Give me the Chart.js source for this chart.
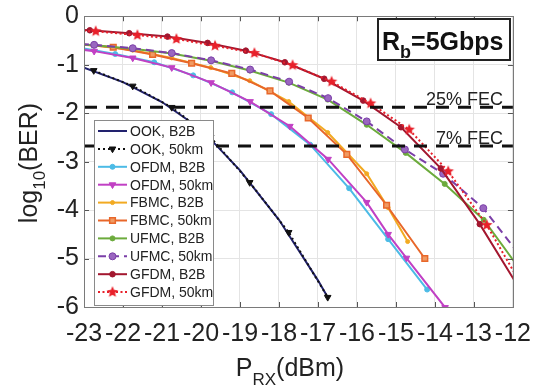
<!DOCTYPE html>
<html>
<head>
<meta charset="utf-8">
<script src="https://cdn.jsdelivr.net/npm/chart.js@4.4.0/dist/chart.umd.min.js"></script>
<style>
  html, body { margin: 0; padding: 0; background: #fff; }
</style>
</head>
<body>
<canvas id="chart" width="543" height="388"></canvas>
<script>
// tick labels
const X_TICKS = [-23, -22, -21, -20, -19, -18, -17, -16, -15, -14, -13, -12];
const Y_TICKS = [0, -1, -2, -3, -4, -5, -6];

// series names (legend order)
const NAMES = ['OOK, B2B', 'OOK, 50km', 'OFDM, B2B', 'OFDM, 50km', 'FBMC, B2B',
               'FBMC, 50km', 'UFMC, B2B', 'UFMC, 50km', 'GFDM, B2B', 'GFDM, 50km'];

// received power (dBm) / log10(BER)
const ookB2bX = [-23, -22, -21, -20, -19, -18, -17, -16.75];
const ookB2bY = [-1.06, -1.36, -1.77, -2.33, -3.18, -4.2, -5.45, -5.8];
const ook50X = [-22.75, -21.75, -20.75, -19.75, -18.75, -17.75, -16.75];
const ook50Y = [-1.12, -1.44, -1.88, -2.5, -3.43, -4.46, -5.8];

const ofdmB2bX = [-23.2, -22.2, -21.2, -20.2, -19.2, -18.2, -17.2, -16.2, -15.2, -14.2];
const ofdmB2bY = [-0.64, -0.78, -0.95, -1.22, -1.57, -2.02, -2.65, -3.55, -4.6, -5.64];
const ofdm50X = [-23.74, -22.74, -21.75, -20.75, -19.74, -18.74, -17.72, -16.74, -15.75, -15.2, -14.73, -13.74];
const ofdm50Y = [-0.62, -0.72, -0.86, -1.06, -1.37, -1.76, -2.27, -2.95, -3.84, -4.5, -4.99, -6.01];

const fbmcB2bX = [-23.75, -22.75, -21.75, -20.75, -19.75, -18.75, -17.75, -16.75, -15.75, -15.2, -14.7];
const fbmcB2bY = [-0.55, -0.6, -0.7, -0.86, -1.06, -1.33, -1.76, -2.4, -3.25, -3.95, -4.65];
const fbmc50X = [-23.25, -22.25, -21.24, -20.24, -19.21, -18.23, -17.25, -16.26, -15.24, -14.26];
const fbmc50Y = [-0.57, -0.64, -0.79, -0.97, -1.18, -1.54, -2.1, -2.85, -3.9, -5.0];

const ufmcB2bX = [-23.75, -22.75, -21.75, -20.75, -19.75, -18.75, -17.75, -16.75, -15.75, -14.75, -13.75, -12.75, -11.75];
const ufmcB2bY = [-0.55, -0.6, -0.67, -0.77, -0.92, -1.12, -1.37, -1.72, -2.24, -2.82, -3.46, -4.2, -5.3];
const ufmc50X = [-23.74, -22.74, -21.75, -20.75, -19.74, -18.74, -17.74, -16.74, -15.75, -14.77, -13.79, -12.76, -11.76];
const ufmc50Y = [-0.55, -0.59, -0.66, -0.76, -0.91, -1.1, -1.35, -1.69, -2.17, -2.75, -3.25, -3.96, -5.0];

const gfdmB2bX = [-23.85, -22.85, -21.84, -20.86, -19.83, -18.85, -17.85, -16.84, -15.84, -14.87, -13.85, -12.85, -11.85];
const gfdmB2bY = [-0.24, -0.29, -0.35, -0.42, -0.55, -0.71, -0.95, -1.29, -1.74, -2.29, -3.14, -4.29, -5.6];
const gfdm50X = [-23.7, -22.7, -21.63, -20.63, -19.64, -18.63, -17.65, -16.65, -15.65, -14.66, -13.66, -12.67, -11.67];
const gfdm50Y = [-0.27, -0.31, -0.39, -0.47, -0.61, -0.76, -1.01, -1.35, -1.8, -2.34, -3.2, -4.31, -5.7];

// FEC thresholds
const FEC_LEVELS = [-1.88, -2.68];
const FEC_LABELS = ['25% FEC', '7% FEC'];

const FONT = '"Liberation Sans", Arial, sans-serif';

function pts(xs, ys) {
  return xs.map((x, i) => ({ x: x, y: ys[i] }));
}

function makeStar(color, r) {
  const c = document.createElement('canvas');
  const s = Math.ceil(r * 2 + 2);
  c.width = s; c.height = s;
  const g = c.getContext('2d');
  g.fillStyle = color;
  g.beginPath();
  for (let k = 0; k < 10; k++) {
    const a = -Math.PI / 2 + k * Math.PI / 5;
    const rr = k % 2 ? r * 0.45 : r;
    g.lineTo(s / 2 + rr * Math.cos(a), s / 2 + rr * Math.sin(a));
  }
  g.closePath();
  g.fill();
  return c;
}

function curve(i, xs, ys, color, opts) {
  return Object.assign({
    label: NAMES[i],
    data: pts(xs, ys),
    borderColor: color,
    backgroundColor: color,
    borderWidth: 2,
    pointRadius: 2.2,
    pointBorderWidth: 1,
    pointStyle: 'circle',
    order: 30 - i,
    fill: false
  }, opts || {});
}

const datasets = [
  curve(0, ookB2bX, ookB2bY, '#22226e', { pointRadius: 0 }),
  curve(1, ook50X, ook50Y, '#111111', { borderDash: [2, 3], pointStyle: 'triangle', pointRotation: 180, pointRadius: 3.8 }),
  curve(2, ofdmB2bX, ofdmB2bY, '#4cbbe6', { pointRadius: 2.5 }),
  curve(3, ofdm50X, ofdm50Y, '#c140c4', { pointStyle: 'triangle', pointRotation: 180, pointRadius: 3.8 }),
  curve(4, fbmcB2bX, fbmcB2bY, '#f2aa22', { pointRadius: 2 }),
  curve(5, fbmc50X, fbmc50Y, '#e8672a', { pointStyle: 'rect', pointRadius: 4, backgroundColor: '#f09a62', pointBorderWidth: 1.5 }),
  curve(6, ufmcB2bX, ufmcB2bY, '#6cab3c', { pointRadius: 2.5 }),
  curve(7, ufmc50X, ufmc50Y, '#7b3fa8', { borderDash: [8, 5], pointRadius: 3.5, backgroundColor: '#9a66c0' }),
  curve(8, gfdmB2bX, gfdmB2bY, '#a3172f', { pointRadius: 2.8 }),
  curve(9, gfdm50X, gfdm50Y, '#e8202a', { borderDash: [2, 2.5], pointStyle: makeStar('#e8202a', 6), pointRadius: 6 })
];

FEC_LEVELS.forEach(v => {
  datasets.push({
    label: 'FEC',
    data: [{ x: X_TICKS[0], y: v }, { x: X_TICKS[X_TICKS.length - 1], y: v }],
    borderColor: '#111',
    borderWidth: 3,
    borderDash: [13, 9],
    pointRadius: 0,
    order: 1
  });
});

const decor = {
  id: 'decor',
  afterDatasetsDraw(chart) {
    const ctx = chart.ctx;
    const a = chart.chartArea;
    const xs = chart.scales.x, ys = chart.scales.y;
    ctx.save();

    // inner tick marks + frame (matlab look)
    ctx.strokeStyle = '#555';
    ctx.lineWidth = 1;
    ctx.beginPath();
    X_TICKS.forEach(v => {
      const px = Math.round(xs.getPixelForValue(v)) + 0.5;
      ctx.moveTo(px, a.bottom); ctx.lineTo(px, a.bottom - 5);
      ctx.moveTo(px, a.top); ctx.lineTo(px, a.top + 5);
    });
    Y_TICKS.forEach(v => {
      const py = Math.round(ys.getPixelForValue(v)) + 0.5;
      ctx.moveTo(a.left, py); ctx.lineTo(a.left + 5, py);
      ctx.moveTo(a.right, py); ctx.lineTo(a.right - 5, py);
    });
    ctx.stroke();
    ctx.strokeStyle = '#7a7a7a';
    ctx.strokeRect(Math.round(a.left) + 0.5, Math.round(a.top) + 0.5, Math.round(a.right - a.left), Math.round(a.bottom - a.top));

    // FEC labels
    ctx.fillStyle = '#222';
    ctx.font = '18px ' + FONT;
    ctx.textAlign = 'right';
    ctx.textBaseline = 'alphabetic';
    FEC_LEVELS.forEach((v, i) => {
      ctx.fillText(FEC_LABELS[i], 503, ys.getPixelForValue(v) - 2);
    });

    // bit-rate box
    ctx.fillStyle = '#fff';
    ctx.fillRect(378, 19, 132, 41);
    ctx.strokeStyle = '#222';
    ctx.lineWidth = 2;
    ctx.strokeRect(378, 19, 132, 41);
    ctx.fillStyle = '#111';
    ctx.textAlign = 'left';
    ctx.font = 'bold 25px ' + FONT;
    let tx = 382;
    ctx.fillText('R', tx, 50);
    tx += ctx.measureText('R').width;
    ctx.font = 'bold 18px ' + FONT;
    ctx.fillText('b', tx, 58);
    tx += ctx.measureText('b').width;
    ctx.font = 'bold 25px ' + FONT;
    ctx.fillText('=5Gbps', tx, 50);

    // legend
    const lx = 94, ly = 120, lw = 119, lh = 185;
    ctx.fillStyle = '#fff';
    ctx.fillRect(lx, ly, lw, lh);
    ctx.strokeStyle = '#8a8a8a';
    ctx.lineWidth = 1;
    ctx.strokeRect(lx + 0.5, ly + 0.5, lw, lh);
    ctx.font = '14px ' + FONT;
    ctx.textBaseline = 'middle';
    for (let i = 0; i < NAMES.length; i++) {
      const ds = chart.data.datasets[i];
      const y = 131 + i * 17.9;
      ctx.strokeStyle = ds.borderColor;
      ctx.lineWidth = 2;
      ctx.setLineDash(ds.borderDash || []);
      ctx.beginPath();
      ctx.moveTo(98, y); ctx.lineTo(127, y);
      ctx.stroke();
      ctx.setLineDash([]);
      if (ds.pointRadius > 0) {
        ctx.fillStyle = ds.backgroundColor;
        ctx.lineWidth = ds.pointBorderWidth;
        Chart.helpers.drawPoint(ctx, {
          pointStyle: ds.pointStyle, rotation: ds.pointRotation || 0,
          radius: ds.pointRadius, borderWidth: ds.pointBorderWidth
        }, 112.5, y);
      }
      ctx.fillStyle = '#222';
      ctx.fillText(NAMES[i], 130, y + 1);
    }
    ctx.restore();
  },
  afterDraw(chart) {
    const ctx = chart.ctx;
    ctx.save();
    ctx.fillStyle = '#222';
    ctx.textBaseline = 'alphabetic';
    ctx.textAlign = 'left';

    // x title: P_RX(dBm)
    const big = '25px ' + FONT, small = '17px ' + FONT;
    ctx.font = big; const w1 = ctx.measureText('P').width, w3 = ctx.measureText('(dBm)').width;
    ctx.font = small; const w2 = ctx.measureText('RX').width;
    let x = 290 - (w1 + w2 + w3) / 2;
    ctx.font = big; ctx.fillText('P', x, 376); x += w1;
    ctx.font = small; ctx.fillText('RX', x, 385); x += w2;
    ctx.font = big; ctx.fillText('(dBm)', x, 376);

    // y title: log10(BER)
    ctx.translate(37, 163);
    ctx.rotate(-Math.PI / 2);
    ctx.font = big; const v1 = ctx.measureText('log').width, v3 = ctx.measureText('(BER)').width;
    ctx.font = small; const v2 = ctx.measureText('10').width;
    let t = -(v1 + v2 + v3) / 2;
    ctx.font = big; ctx.fillText('log', t, 0); t += v1;
    ctx.font = small; ctx.fillText('10', t, 8); t += v2;
    ctx.font = big; ctx.fillText('(BER)', t, 0);
    ctx.restore();
  }
};

Chart.defaults.font.family = FONT;

new Chart(document.getElementById('chart'), {
  type: 'line',
  data: { datasets: datasets },
  options: {
    responsive: false,
    animation: false,
    devicePixelRatio: 1,
    layout: { padding: { left: 0, right: 30, top: 12, bottom: 0 } },
    plugins: { legend: { display: false }, tooltip: { enabled: false } },
    scales: {
      x: {
        type: 'linear',
        min: X_TICKS[0], max: X_TICKS[X_TICKS.length - 1],
        afterBuildTicks: s => { s.ticks = X_TICKS.map(v => ({ value: v })); },
        afterFit: s => { s.height = 81; },
        grid: { color: '#e4e4e4', drawTicks: false },
        border: { display: false },
        ticks: { color: '#222', padding: 12, maxRotation: 0, autoSkip: false, font: { size: 25, lineHeight: 1.2 } }
      },
      y: {
        type: 'linear',
        min: Y_TICKS[Y_TICKS.length - 1], max: Y_TICKS[0],
        afterBuildTicks: s => { s.ticks = Y_TICKS.slice().reverse().map(v => ({ value: v })); },
        afterFit: s => { s.width = 84; },
        grid: { color: '#e4e4e4', drawTicks: false },
        border: { display: false },
        ticks: { color: '#222', padding: 5, autoSkip: false, font: { size: 25, lineHeight: 0.9 } }
      }
    }
  },
  plugins: [decor]
});
</script>
</body>
</html>
